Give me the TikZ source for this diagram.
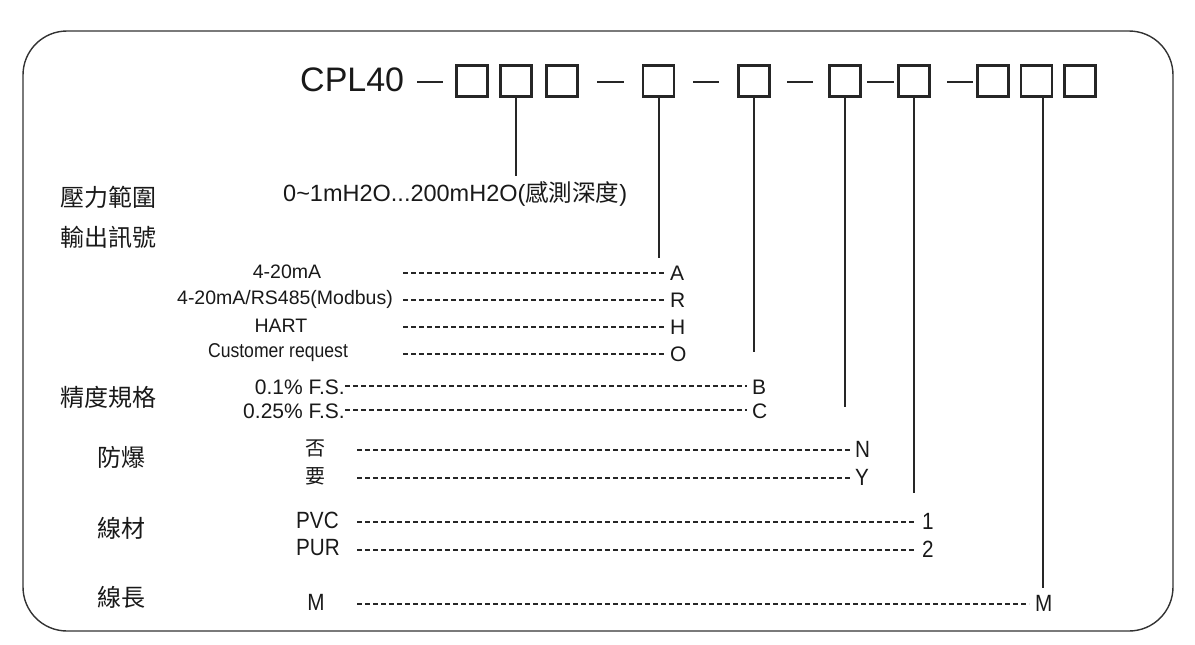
\documentclass[tikz,border=0pt]{standalone}
\usepackage{fontspec}
\setmainfont{Liberation Sans}
\newfontfamily\cjk{Noto Sans CJK TC}
\newfontfamily\narrowf[FakeStretch=0.88]{Liberation Sans}
\begin{document}
\begin{tikzpicture}[x=1pt,y=-1pt,
  bx/.style={draw=black!85, line width=2.6pt, minimum width=31pt, minimum height=31pt, inner sep=0pt},
  hy/.style={line width=2pt, draw=black!85},
  lead/.style={line width=2pt, draw=black!85},
  dsh/.style={line width=1.3pt, dash pattern=on 5pt off 3pt, draw=black!85},
  cat/.style={font=\cjk\fontsize{24}{24}\selectfont, inner sep=0pt, anchor=west, text=black!90},
  txt/.style={font=\fontsize{19.5}{19.5}\selectfont, inner sep=0pt, text=black!90},
  atxt/.style={font=\fontsize{21}{21}\selectfont, inner sep=0pt, text=black!90},
  ntxt/.style={font=\narrowf\fontsize{23.5}{23.5}\selectfont, inner sep=0pt, text=black!90},
  ctxt/.style={font=\cjk\fontsize{20}{20}\selectfont, inner sep=0pt, text=black!90},
]
\useasboundingbox (0,0) rectangle (1195,645);
\draw[line width=1.4pt, draw=black!80, rounded corners=44pt] (23,31) rectangle (1173,631);

% code line
\node[font=\fontsize{34}{34}\selectfont, inner sep=0pt, anchor=west, text=black!90] (cpl) at (300,80) {CPL40};
\node[bx] (b1) at (472,81) {};
\node[bx] (b2) at (516,81) {};
\node[bx] (b3) at (562,81) {};
\node[bx] (b4) at (658.5,81) {};
\node[bx] (b5) at (754,81) {};
\node[bx] (b6) at (845,81) {};
\node[bx] (b7) at (914,81) {};
\node[bx] (b8) at (993,81) {};
\node[bx] (b9) at (1036.5,81) {};
\node[bx] (b10) at (1080,81) {};
\coordinate (h1a) at (417,82); \coordinate (h1b) at (443,82);
\coordinate (h2a) at (597,82); \coordinate (h2b) at (624,82);
\coordinate (h3a) at (693,82); \coordinate (h3b) at (719,82);
\coordinate (h4a) at (787,82); \coordinate (h4b) at (813,82);
\coordinate (h5a) at (867,82); \coordinate (h5b) at (894,82);
\coordinate (h6a) at (947,82); \coordinate (h6b) at (973,82);
\foreach \i in {1,...,6} {\draw[hy] (h\i a) -- (h\i b);}

% leads
\coordinate (e2) at (516,176);
\coordinate (e4) at (658.5,258);
\coordinate (e5) at (754,352);
\coordinate (e6) at (845,407);
\coordinate (e7) at (914,493);
\coordinate (e9) at (1043,588);
\draw[lead] (b2.south) -- (e2);
\draw[lead] (b4.south) -- (e4);
\draw[lead] (b5.south) -- (e5);
\draw[lead] (b6.south) -- (e6);
\draw[lead] (b7.south) -- (e7);
\draw[lead] (e9 |- b9.south) -- (e9);

% categories
\node[cat] (c1) at (60,197) {壓力範圍};
\node[cat] (c2) at (60,237) {輸出訊號};
\node[cat] (c3) at (60,397) {精度規格};
\node[cat] (c4) at (97,457) {防爆};
\node[cat] (c5) at (97,528) {線材};
\node[cat] (c6) at (97,597) {線長};

% range
\node[font=\fontsize{23.5}{23.5}\selectfont, inner sep=0pt, anchor=west, text=black!90] (rng) at (283,194) {0\char`~1mH2O...200mH2O({\cjk 感測深度})};

% output signal
\node[txt] (o1) at (287,272) {4-20mA};
\node[txt] (o2) at (285,299) {4-20mA/RS485(Modbus)};
\node[txt] (o3) at (281,326) {HART};
\node[txt, font=\narrowf\fontsize{20}{20}\selectfont] (o4) at (278,353) {Customer request};
\node[atxt, anchor=west] (vA) at (670,273) {A};
\node[atxt, anchor=west] (vR) at (670,300) {R};
\node[atxt, anchor=west] (vH) at (670,327) {H};
\node[atxt, anchor=west] (vO) at (670,354) {O};
\foreach \r/\y in {A/272,R/299,H/326,O/353} {
  \coordinate (s\r) at (403,\y+1);
  \draw[dsh] (s\r) -- ([xshift=-5pt]v\r.west |- s\r);
}

% accuracy
\node[atxt, anchor=east] (a1) at (345,387) {0.1\% F.S.};
\node[atxt, anchor=east] (a2) at (345,411) {0.25\% F.S.};
\node[atxt, anchor=west] (vB) at (752,387) {B};
\node[atxt, anchor=west] (vC) at (752,411) {C};
\draw[dsh] ([yshift=1pt]a1.east) -- ([xshift=-5pt,yshift=1pt]vB.west);
\draw[dsh] ([yshift=1pt]a2.east) -- ([xshift=-5pt,yshift=1pt]vC.west);

% explosion proof
\node[ctxt] (p1) at (315,448) {否};
\node[ctxt] (p2) at (315,476) {要};
\node[ntxt, anchor=west] (vN) at (855,449) {N};
\node[ntxt, anchor=west] (vY) at (855,477) {Y};
\coordinate (sN) at (357,450); \coordinate (sY) at (357,478);
\draw[dsh] (sN) -- ([xshift=-5pt]vN.west |- sN);
\draw[dsh] (sY) -- ([xshift=-5pt]vY.west |- sY);

% cable material
\node[ntxt, anchor=west] (m1) at (296,520) {PVC};
\node[ntxt, anchor=west] (m2) at (296,548) {PUR};
\node[ntxt, anchor=west] (v1) at (922,521) {1};
\node[ntxt, anchor=west] (v2) at (922,549) {2};
\coordinate (s1) at (357,522); \coordinate (s2) at (357,550);
\draw[dsh] (s1) -- ([xshift=-6pt]v1.west |- s1);
\draw[dsh] (s2) -- ([xshift=-6pt]v2.west |- s2);

% cable length
\node[ntxt] (l1) at (316,602) {M};
\node[ntxt, anchor=west] (vM) at (1035,603) {M};
\coordinate (sM) at (357,604);
\draw[dsh] (sM) -- ([xshift=-6pt]vM.west |- sM);
\end{tikzpicture}
\end{document}
